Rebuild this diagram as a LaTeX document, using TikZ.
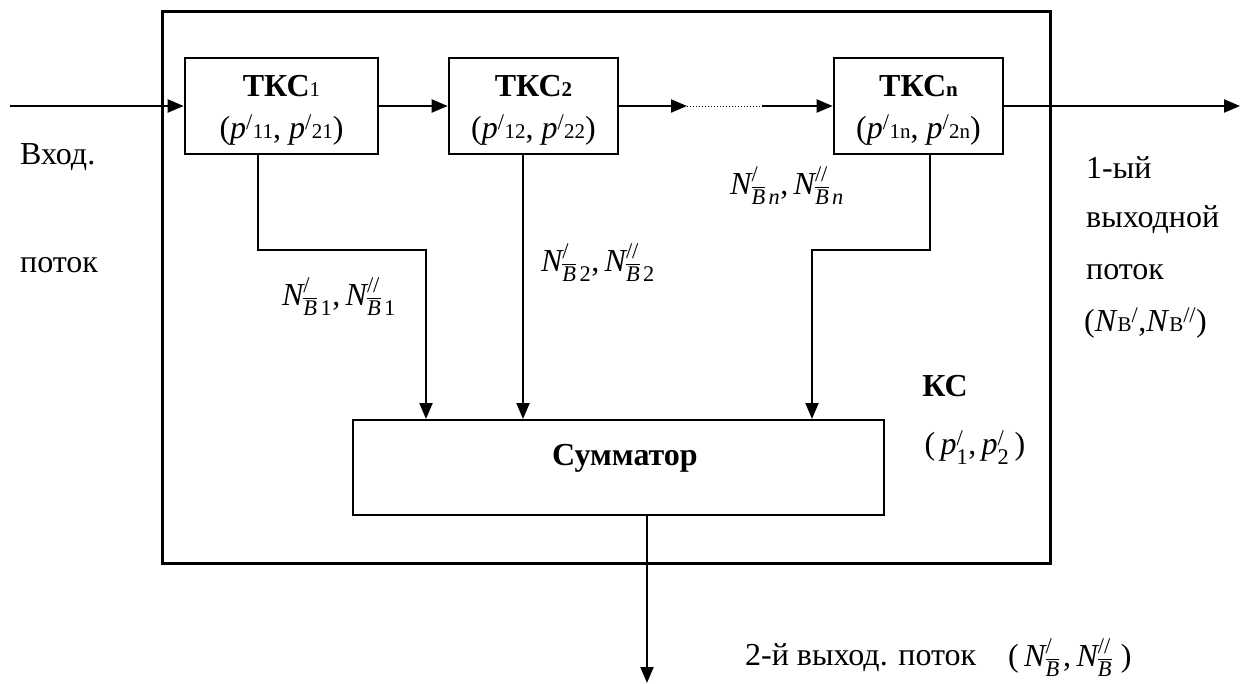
\documentclass[tikz,border=0pt]{standalone}
\usepackage{fontspec}
\usepackage{amsmath}
\setmainfont{Liberation Serif}
\usetikzlibrary{arrows.meta,calc}
\newcommand{\lowsub}[1]{{\fontsize{21}{21}\selectfont #1}}
\newcommand{\NBs}[2]{$\text{\itshape N}^{\text{#1}}_{\overline{\text{\itshape B}}\,\text{#2}}$}
\newcommand{\NBpair}[1]{\NBs{/}{#1},\,\NBs{//}{#1}}
\newcommand{\pp}[1]{$\text{\itshape p}^{\text{/}}_{\text{#1}}$}
\tikzset{
  base/.style={font=\fontsize{32}{42}\selectfont},
  blk/.style={draw, line width=2.6pt, inner sep=0pt},
  sumbox/.style={draw, line width=2pt, inner sep=0pt},
  outerbox/.style={draw, line width=3pt, inner sep=0pt},
  arr/.style={line width=2pt, -{Triangle[length=16pt,width=13pt]}},
  lbl/.style={base, inner sep=0pt, anchor=center},
  blktxt/.style={base, inner sep=0pt, align=center},
}
\begin{document}
\begin{tikzpicture}[x=1pt,y=-1pt]
\useasboundingbox (0,0) rectangle (1240,683);
% outer box
\node[outerbox, minimum width=888pt, minimum height=552pt] (ks) at (606,287) {};
% blocks
\node[blk, minimum width=193pt, minimum height=96pt] (tkc1) at (281.5,106) {};
\node[blk, minimum width=169pt, minimum height=96pt] (tkc2) at (533.5,106) {};
\node[blk, minimum width=169pt, minimum height=96pt] (tkcn) at (918.5,106) {};
\node[blktxt] (t1) at ([yshift=-4pt]tkc1.center)
  {\textbf{ТКС}\lowsub{1}\\(\textit{p}\textsuperscript{/}\lowsub{11}, \textit{p}\textsuperscript{/}\lowsub{21})};
\node[blktxt] (t2) at ([yshift=-4pt]tkc2.center)
  {\textbf{ТКС\lowsub{2}}\\(\textit{p}\textsuperscript{/}\lowsub{12}, \textit{p}\textsuperscript{/}\lowsub{22})};
\node[blktxt] (tn) at ([yshift=-4pt]tkcn.center)
  {\textbf{ТКС\lowsub{n}}\\(\textit{p}\textsuperscript{/}\lowsub{1n}, \textit{p}\textsuperscript{/}\lowsub{2n})};
\node[sumbox, minimum width=531pt, minimum height=95pt] (sum) at (618.5,467.5) {};
\node[lbl, font=\fontsize{32}{42}\selectfont\bfseries] (sumtxt) at (625,458) {Сумматор};
% coordinates
\coordinate (in) at (10,106);
\coordinate (d1) at (687,106);
\coordinate (d2) at (762,106);
\coordinate (out1) at (1240,106);
\coordinate (j1) at (426,250);
\coordinate (jn) at (812,250);
\coordinate (out2) at (647,683);
% connectors
\draw[arr] (in) -- (tkc1.west);
\draw[arr] (tkc1.east) -- (tkc2.west);
\draw[arr] (tkc2.east) -- (d1);
\draw[line width=1pt, dotted] (d1) -- (d2);
\draw[arr] (d2) -- (tkcn.west);
\draw[arr] (tkcn.east) -- (out1);
\draw[arr] ([xshift=-23.5pt]tkc1.south) |- (j1) -- (j1 |- sum.north);
\draw[arr] ([xshift=-10.5pt]tkc2.south) -- ([xshift=-10.5pt]tkc2.south |- sum.north);
\draw[arr] ([xshift=11.5pt]tkcn.south) |- (jn) -- (jn |- sum.north);
\draw[arr] ([xshift=28.5pt]sum.south) -- (out2);
% labels
\node[lbl] (l1) at (339,297) {\NBpair{1}};
\node[lbl] (l2) at (598,263) {\NBpair{2}};
\node[lbl] (ln) at (787,186) {\NBs{/}{\itshape n},\,\NBs{//}{\itshape n}};
\node[lbl, anchor=west] (vx1) at (20,157) {Вход.};
\node[lbl, anchor=west] (vx2) at (20,265) {поток};
\node[lbl, anchor=west] (o1) at (1086,168) {1-ый};
\node[lbl, anchor=west] (o2) at (1086,220) {выходной};
\node[lbl, anchor=west] (o3) at (1086,272) {поток};
\node[lbl, anchor=west] (o4) at (1084,323) {(\textit{N}\lowsub{B}\textsuperscript{/},\textit{N}\lowsub{B}\textsuperscript{//})};
\node[lbl, font=\fontsize{32}{42}\selectfont\bfseries] (kslbl) at (945,386) {КС};
\node[lbl] (kspar) at (975,448) {(\,\pp{1},\,\pp{2}\,)};
\node[lbl, anchor=west] (b1) at (745,658) {2-й выход. поток};
\node[lbl, anchor=west] (b2) at (1008,658) {(\,\NBs{/}{},\,\NBs{//}{}\,)};
\end{tikzpicture}
\end{document}
